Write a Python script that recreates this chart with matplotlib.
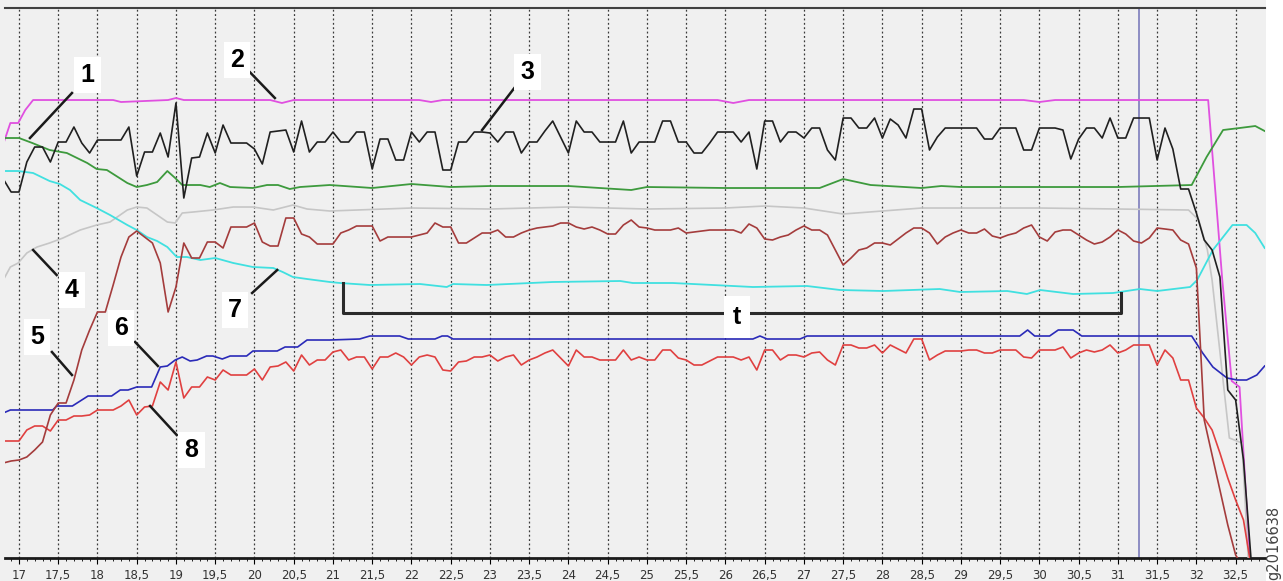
import numpy as np
import matplotlib
matplotlib.use("Agg")
import matplotlib.pyplot as plt

# common sample base (0.1 s) for the noisy signals
t = np.round(np.arange(16.8, 32.85, 0.1), 1)

# curve 3 (black)
sig3 = [379, 366,
        366, 396, 411, 411, 396, 416, 416, 431, 415, 405,
        418, 418, 418, 418, 431, 382, 406, 406, 425, 401,
        455, 360, 400, 401, 425, 405, 433, 415, 415, 415,
        409, 394, 426, 427, 428, 406, 437, 406, 416, 416,
        426, 416, 416, 426, 426, 389, 419, 419, 398, 398,
        426, 416, 426, 426, 388, 388, 416, 416, 426, 426,
        425, 416, 426, 426, 405, 416, 416, 427, 437, 421,
        405, 437, 426, 426, 416, 416, 416, 437, 405, 416,
        416, 416, 437, 437, 416, 416, 405, 405, 415, 426,
        426, 426, 416, 426, 389, 437, 437, 416, 426, 426,
        420, 430, 430, 408, 398, 440, 440, 430, 430, 440,
        420, 439, 433, 420, 449, 449, 408, 421, 430, 430,
        430, 430, 430, 419, 419, 430, 430, 430, 408, 408,
        430, 430, 430, 428, 399, 419, 430, 430, 420, 440,
        420, 420, 440, 440, 440, 398, 430, 409, 369, 369,
        345, 318, 308, 281, 168, 158, 98, -5, -10]

# curve 5 (dark red)
sig5 = [95, 97,
        98, 101, 108, 116, 143, 155, 155, 178, 208, 228,
        246, 246, 273, 301, 321, 327, 321, 315, 295, 246,
        271, 315, 300, 300, 316, 316, 310, 331, 331, 331,
        335, 316, 312, 312, 340, 340, 324, 321, 314, 314,
        314, 325, 328, 332, 332, 332, 317, 321, 321, 321,
        321, 323, 325, 335, 331, 331, 315, 315, 320, 325,
        325, 328, 321, 321, 325, 328, 330, 331, 332, 335,
        335, 331, 329, 331, 328, 324, 324, 333, 338, 331,
        330, 328, 328, 328, 330, 325, 326, 327, 328, 328,
        328, 328, 325, 334, 330, 319, 318, 321, 323, 328,
        332, 328, 328, 323, 308, 293, 300, 308, 310, 315,
        315, 313, 319, 325, 330, 330, 325, 314, 321, 325,
        328, 325, 325, 329, 322, 320, 323, 325, 330, 333,
        321, 317, 326, 328, 328, 323, 318, 314, 316, 321,
        328, 324, 317, 315, 320, 330, 329, 328, 318, 314,
        290, 138, 103, 68, 33, 3, -10, -10, -10]

# curve 8 (red)
sig8 = [117, 117,
        117, 128, 132, 132, 127, 138, 138, 142, 142, 143,
        148, 148, 148, 152, 158, 143, 151, 152, 176, 168,
        196, 160, 171, 171, 181, 178, 188, 183, 183, 183,
        189, 178, 191, 192, 196, 187, 203, 193, 198, 198,
        206, 208, 198, 201, 201, 189, 201, 201, 205, 201,
        193, 201, 203, 201, 188, 187, 196, 197, 201, 201,
        203, 197, 201, 203, 193, 198, 201, 205, 208, 200,
        192, 208, 201, 201, 198, 198, 198, 208, 198, 201,
        198, 198, 208, 208, 200, 198, 193, 193, 197, 201,
        201, 201, 198, 201, 188, 208, 208, 198, 203, 203,
        201, 205, 206, 198, 193, 213, 213, 210, 210, 213,
        205, 213, 209, 205, 219, 219, 198, 203, 207, 207,
        207, 208, 208, 205, 205, 208, 208, 208, 201, 200,
        208, 208, 208, 211, 200, 205, 208, 206, 208, 213,
        205, 208, 213, 213, 213, 193, 208, 200, 178, 178,
        150, 140, 128, 105, 80, 58, 38, -10, -10]

# curve 2 (magenta)
t2 = [16.8, 16.89, 16.99, 17.08, 17.18, 18.2, 18.3, 18.9, 19.0, 19.1,
      20.2, 20.35, 20.5, 22.1, 22.25, 22.4, 25.9, 26.1, 26.3, 29.8,
      30.0, 30.2, 32.15, 32.33, 32.45, 32.55, 32.68, 32.8]
sig2 = [414, 435, 435, 448, 458, 458, 456, 458, 460, 458,
        458, 455, 458, 458, 456, 458, 458, 455, 458, 458,
        456, 458, 458, 278, 177, 171, 0, -10]

# curve 1 (green)
t1 = [16.8, 17.0, 17.17, 17.39, 17.61, 17.87, 17.99, 18.12, 18.38, 18.5,
      18.63, 18.76, 18.89, 18.99, 19.08, 19.31, 19.43, 19.56, 19.69, 19.98,
      20.16, 20.3, 20.45, 20.58, 20.96, 21.5, 22.0, 22.5, 23.0, 24.0,
      24.8, 25.0, 26.0, 26.5, 27.2, 27.5, 27.85, 28.5, 28.75, 29.0,
      30.0, 31.0, 31.94, 32.13, 32.34, 32.55, 32.75, 32.87]
sig1 = [420, 420, 415, 408, 405, 395, 389, 388, 375, 371,
        373, 376, 387, 380, 373, 373, 371, 375, 371, 370,
        373, 373, 369, 371, 373, 370, 374, 371, 372, 372,
        368, 371, 370, 370, 370, 379, 373, 370, 372, 371,
        371, 371, 373, 401, 428, 430, 432, 427]

# curve 4 (light grey)
t4 = [16.8, 16.89, 16.99, 17.1, 17.23, 17.39, 17.56, 17.78, 17.99, 18.16,
      18.38, 18.5, 18.63, 18.89, 18.99, 19.08, 19.22, 19.47, 19.73, 19.98,
      20.24, 20.49, 20.67, 20.96, 22.0, 23.0, 24.0, 25.0, 26.0, 26.5,
      27.0, 27.5, 28.0, 28.5, 29.0, 30.0, 31.0, 31.9, 32.03, 32.14,
      32.2, 32.42, 32.58, 32.66, 32.75]
sig4 = [278, 291, 295, 305, 311, 315, 320, 328, 333, 336,
        348, 351, 350, 336, 335, 345, 346, 348, 351, 351,
        348, 353, 349, 347, 350, 349, 351, 349, 350, 352,
        350, 344, 347, 350, 350, 350, 349, 348, 338, 308,
        278, 120, 115, 0, -10]

# curve 7 (cyan)
t7 = [16.8, 16.99, 17.18, 17.39, 17.52, 17.65, 17.78, 17.99, 18.16, 18.38,
      18.5, 18.63, 18.76, 18.89, 19.01, 19.14, 19.31, 19.5, 19.73, 19.98,
      20.24, 20.36, 20.49, 20.67, 20.96, 21.09, 21.47, 22.11, 22.45, 22.53,
      22.96, 23.8, 24.66, 24.82, 25.33, 26.35, 27.04, 27.46, 28.01, 28.73,
      28.99, 29.59, 29.84, 30.01, 30.43, 30.94, 31.28, 31.5, 31.92, 32.01,
      32.21, 32.46, 32.64, 32.75, 32.87]
sig7 = [387, 387, 385, 377, 374, 368, 358, 350, 343, 333,
        328, 321, 317, 311, 301, 301, 298, 300, 295, 291,
        290, 286, 281, 279, 276, 275, 273, 274, 271, 274,
        273, 276, 277, 275, 275, 271, 272, 268, 267, 269,
        266, 267, 264, 268, 264, 265, 269, 267, 271, 278,
        308, 333, 333, 325, 310]

# curve 6 (blue)
t6 = [16.8, 16.89, 17.43, 17.48, 17.68, 17.88, 18.18, 18.29, 18.39, 18.5,
      18.69, 18.8, 18.89, 18.99, 19.08, 19.18, 19.27, 19.39, 19.47, 19.59,
      19.69, 19.9, 19.98, 20.29, 20.39, 20.55, 20.67, 20.96, 21.34, 21.47,
      21.85, 21.96, 22.3, 22.39, 22.46, 22.53, 26.35, 26.44, 26.53, 26.95,
      27.04, 29.75, 29.85, 29.94, 30.13, 30.24, 30.43, 30.54, 31.94, 32.08,
      32.21, 32.39, 32.52, 32.64, 32.77, 32.87]
sig6 = [145, 148, 148, 152, 152, 162, 162, 168, 168, 171,
        171, 191, 192, 198, 201, 197, 198, 202, 202, 199,
        202, 202, 207, 207, 211, 211, 218, 218, 219, 222,
        222, 219, 219, 222, 222, 219, 219, 222, 219, 219,
        222, 222, 228, 222, 222, 228, 228, 222, 222, 205,
        191, 180, 178, 178, 183, 192]

ticks = np.arange(17, 32.6, 0.5)
tick_labels = ["17", "17,5", "18", "18,5", "19", "19,5", "20", "20,5",
               "21", "21,5", "22", "22,5", "23", "23,5", "24", "24,5",
               "25", "25,5", "26", "26,5", "27", "27,5", "28", "28,5",
               "29", "29,5", "30", "30,5", "31", "31,5", "32", "32,5"]
cursor_t = 31.27

fig = plt.figure(figsize=(12.83, 5.81), dpi=100)
fig.patch.set_facecolor("white")
fig.patches.append(plt.Rectangle((0, 0), 0.987, 1, transform=fig.transFigure,
                                 facecolor="#f0f0f0", edgecolor="none", zorder=-10))
ax = fig.add_axes([0.0039, 0.0396, 0.982, 0.9466])
ax.set_facecolor("#f0f0f0")
ax.set_xlim(16.822, 32.873)
ax.set_ylim(0, 550)

for x in ticks:
    ax.axvline(x, color="#3a3a3a", lw=0.9, ls=(0, (1.5, 2)), zorder=1)
ax.axvline(cursor_t, color="#8585c0", lw=1.3, zorder=1)

ax.plot(t2, sig2, color="#e050e0", lw=1.3, zorder=3)
ax.plot(t1, sig1, color="#3d9a3d", lw=1.3, zorder=3)
ax.plot(t4, sig4, color="#c6c6c6", lw=1.2, zorder=3)
ax.plot(t7, sig7, color="#40e0e0", lw=1.3, zorder=3)
ax.plot(t6, sig6, color="#2a2ab8", lw=1.2, zorder=3)
ax.plot(t, sig8, color="#e04040", lw=1.2, zorder=3)
ax.plot(t, sig5, color="#a43c3c", lw=1.2, zorder=3)
ax.plot(t, sig3, color="#202020", lw=1.2, zorder=4)

# bracket for period t
ax.plot([21.13, 21.13, 31.04, 31.04], [275, 245, 245, 265], color="#2a2a2a", lw=2.2, zorder=5)

bbox = dict(boxstyle="square,pad=0.25", facecolor="white", edgecolor="none")
labels = [("1", 17.87, 483, (17.675, 465), (17.14, 420)),
          ("2", 19.78, 498, (19.94, 486), (20.26, 460)),
          ("3", 23.48, 486, (23.34, 473), (22.90, 428)),
          ("4", 17.675, 268, (17.48, 283), (17.18, 308)),
          ("5", 17.23, 221, (17.42, 206), (17.675, 183)),
          ("6", 18.30, 230, (18.48, 216), (18.77, 192)),
          ("7", 19.75, 248, (19.97, 265), (20.29, 288)),
          ("8", 19.20, 108, (19.01, 123), (18.67, 152))]
for txt, lx, ly, p0, p1 in labels:
    ax.plot([p0[0], p1[0]], [p0[1], p1[1]], color="#1a1a1a", lw=1.8, zorder=6)
    ax.text(lx, ly, txt, fontsize=18, fontweight="bold", family="Liberation Sans",
            ha="center", va="center", bbox=bbox, zorder=7)
ax.text(26.15, 241, "t", fontsize=18, fontweight="bold", family="Liberation Sans",
        ha="center", va="center", bbox=dict(boxstyle="square,pad=0.35", facecolor="white",
                                            edgecolor="none"), zorder=7)

for s in ["left", "right"]:
    ax.spines[s].set_visible(False)
ax.spines["top"].set_color("#404040")
ax.spines["top"].set_linewidth(1.5)
ax.spines["bottom"].set_color("#1a1a1a")
ax.spines["bottom"].set_linewidth(2)
ax.set_yticks([])
ax.set_xticks(ticks)
ax.set_xticklabels(tick_labels, fontsize=8.5, color="#333333")
ax.set_xticks(np.arange(16.9, 32.85, 0.1), minor=True)
ax.tick_params(axis="x", which="major", length=4, width=0.8, pad=4)
ax.tick_params(axis="x", which="minor", length=2.5, width=0.6)

fig.text(0.9925, 0.065, "g2016638", rotation=90, fontsize=10.5, color="#444444",
         ha="center", va="center")

fig.savefig("out.png", dpi=100, facecolor=fig.get_facecolor())
